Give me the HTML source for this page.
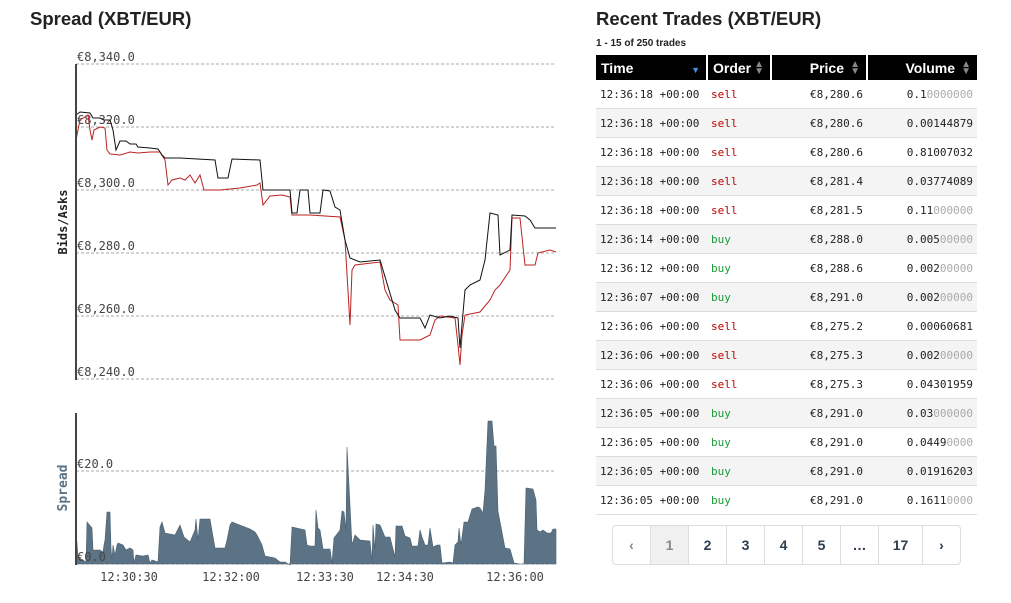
<!DOCTYPE html><html><head><meta charset="utf-8"><style>
body{margin:0;width:1011px;height:603px;background:#fff;font-family:"Liberation Sans",sans-serif;position:relative;overflow:hidden}
h2{position:absolute;margin:0;font-size:18.5px;font-weight:bold;color:#222}
.tbl{position:absolute;left:596px;top:55px;width:381px;border-collapse:collapse;table-layout:fixed}
.tbl th{background:#000;color:#fff;height:25px;font-size:14px;text-align:left;padding:0 5px;border-right:2px solid #fff;position:relative}
.tbl th:last-child{border-right:0}
.tbl th.r{text-align:right;padding-right:22px}
.tbl td{height:28px;border-bottom:1px solid #ddd;font-family:"DejaVu Sans Mono",monospace;font-size:11px;padding:0 4px;color:#222;white-space:nowrap;overflow:hidden}
.tbl tr:nth-child(odd) td{background:#f4f4f4}
.tbl td.r{text-align:right}
.tbl td.s{color:#b00}.tbl td.b{color:#1a9a3a}.g{color:#aaa}
.ar{color:#888;font-size:10px;position:absolute;right:6px;top:6px;line-height:7px}
.pg{position:absolute;left:612px;top:525px;height:38px;display:flex;border:1px solid #ddd;border-radius:4px}
.pg div{width:37px;border-right:1px solid #ddd;display:flex;align-items:center;justify-content:center;font-weight:bold;font-size:14px;color:#2c3e50}
.pg div:last-child{border-right:0}
</style></head><body>
<h2 style="left:30px;top:8px">Spread (XBT/EUR)</h2>
<h2 style="left:596px;top:8px">Recent Trades (XBT/EUR)</h2>
<div style="position:absolute;left:596px;top:38px;font-size:10px;font-weight:bold;color:#222">1 - 15 of 250 trades</div>
<svg width="590" height="603" style="position:absolute;left:0;top:0" font-family="DejaVu Sans Mono,monospace" font-size="12" fill="#444">
<g stroke="#aaa" stroke-dasharray="3,2"><line x1="76" x2="556" y1="64" y2="64"/><line x1="76" x2="556" y1="127" y2="127"/><line x1="76" x2="556" y1="190" y2="190"/><line x1="76" x2="556" y1="253" y2="253"/><line x1="76" x2="556" y1="316" y2="316"/><line x1="76" x2="556" y1="379" y2="379"/><line x1="76" x2="556" y1="471" y2="471"/><line x1="76" x2="556" y1="564" y2="564"/></g>
<text x="77" y="61">€8,340.0</text><text x="77" y="124">€8,320.0</text><text x="77" y="187">€8,300.0</text><text x="77" y="250">€8,280.0</text><text x="77" y="313">€8,260.0</text><text x="77" y="376">€8,240.0</text>
<polyline fill="none" stroke="#b22" stroke-width="1" points="76,140 80,120 88,115 90,130 92,140 94,130 100,127 105,128 107,150 110,154 120,155 130,152 138,153 150,152 160,152 165,160 168,185 172,180 180,178 185,180 190,175 195,183 200,175 204,190 220,190 240,188 257,185 260,183 263,205 270,196 282,195 290,197 292,215 310,215 340,217 345,240 350,325 352,270 355,265 380,262 385,290 390,300 398,305 400,340 420,340 430,335 435,320 440,316 455,318 458,345 460,365 462,335 465,315 480,312 490,300 495,290 500,285 510,270 512,218 520,218 525,265 535,265 538,253 550,250 556,252"/>
<polyline fill="none" stroke="#111" stroke-width="1" points="76,115 80,112 90,113 93,118 100,118 104,120 110,120 113,130 116,150 120,141 126,141 130,144 136,144 138,147 150,148 158,149 162,155 165,158 180,158 215,160 218,178 228,178 232,159 260,160 263,190 290,190 292,213 297,213 300,190 308,190 310,213 320,213 323,190 330,191 335,207 340,210 345,240 350,258 360,262 380,260 395,310 400,318 420,318 425,328 430,315 440,318 450,316 458,318 460,348 465,290 470,285 480,280 485,260 490,213 498,215 500,255 510,250 512,215 525,216 530,220 535,228 556,228"/>
<line x1="76" x2="76" y1="64" y2="380" stroke="#444" stroke-width="2"/>
<text transform="translate(67,222) rotate(-90)" text-anchor="middle" font-weight="bold" fill="#222" font-size="12">Bids/Asks</text>
<polygon fill="#5c7385" stroke="#4a6070" stroke-width="0.6" points="76,564 76,530 78,557 86,562 87,522 92,528 93,550 100,550 103,552 104,545 105,540 107,512 110,512 111,548 112,560 113,545 115,555 117,545 118,543 123,545 126,550 130,548 133,550 134,563 136,555 143,556 148,555 150,563 152,560 158,562 160,527 162,522 165,533 175,535 180,525 184,537 190,542 195,530 196,519 198,540 200,519 210,519 215,548 225,548 227,540 230,525 232,522 250,529 255,532 257,535 262,545 265,556 275,558 280,562 285,562 290,565 292,527 305,530 307,545 310,546 315,546 316,510 318,528 320,530 323,549 330,549 332,563 334,538 340,530 342,511 344,512 346,530 347,447 350,505 352,545 355,535 360,540 370,541 372,561 373,525 375,550 376,524 380,525 385,537 390,537 395,557 396,526 402,526 405,536 410,538 412,546 418,546 420,530 422,537 425,545 428,545 430,528 433,547 437,545 440,545 442,563 450,562 453,563 455,545 458,542 459,528 461,545 464,522 468,522 472,509 478,507 480,508 483,513 485,490 488,421 492,421 494,446 496,446 498,511 505,548 510,549 514,563 520,564 524,564 526,488 533,489 536,500 537,530 540,532 543,530 547,533 551,533 553,529 556,529 556,564"/>
<text x="77" y="468">€20.0</text><text x="77" y="561">€0.0</text>
<line x1="76" x2="76" y1="413" y2="565" stroke="#444" stroke-width="2"/>
<text transform="translate(67,488) rotate(-90)" text-anchor="middle" font-weight="bold" fill="#5c7385" font-size="13">Spread</text>
<g text-anchor="middle"><text x="129" y="581">12:30:30</text><text x="231" y="581">12:32:00</text><text x="325" y="581">12:33:30</text><text x="405" y="581">12:34:30</text><text x="515" y="581">12:36:00</text></g>
</svg>
<table class="tbl">
<colgroup><col style="width:111px"><col style="width:64px"><col style="width:96px"><col></colgroup>
<tr><th>Time<span style="position:absolute;right:6px;top:10px;color:#4a90e2;font-size:9px">▼</span></th><th>Order<span class="ar">▲<br>▼</span></th><th class="r">Price<span class="ar">▲<br>▼</span></th><th class="r">Volume<span class="ar">▲<br>▼</span></th></tr>
<tr><td>12:36:18 +00:00</td><td class="s">sell</td><td class="r">€8,280.6</td><td class="r">0.1<span class="g">0000000</span></td></tr>
<tr><td>12:36:18 +00:00</td><td class="s">sell</td><td class="r">€8,280.6</td><td class="r">0.00144879</td></tr>
<tr><td>12:36:18 +00:00</td><td class="s">sell</td><td class="r">€8,280.6</td><td class="r">0.81007032</td></tr>
<tr><td>12:36:18 +00:00</td><td class="s">sell</td><td class="r">€8,281.4</td><td class="r">0.03774089</td></tr>
<tr><td>12:36:18 +00:00</td><td class="s">sell</td><td class="r">€8,281.5</td><td class="r">0.11<span class="g">000000</span></td></tr>
<tr><td>12:36:14 +00:00</td><td class="b">buy</td><td class="r">€8,288.0</td><td class="r">0.005<span class="g">00000</span></td></tr>
<tr><td>12:36:12 +00:00</td><td class="b">buy</td><td class="r">€8,288.6</td><td class="r">0.002<span class="g">00000</span></td></tr>
<tr><td>12:36:07 +00:00</td><td class="b">buy</td><td class="r">€8,291.0</td><td class="r">0.002<span class="g">00000</span></td></tr>
<tr><td>12:36:06 +00:00</td><td class="s">sell</td><td class="r">€8,275.2</td><td class="r">0.00060681</td></tr>
<tr><td>12:36:06 +00:00</td><td class="s">sell</td><td class="r">€8,275.3</td><td class="r">0.002<span class="g">00000</span></td></tr>
<tr><td>12:36:06 +00:00</td><td class="s">sell</td><td class="r">€8,275.3</td><td class="r">0.04301959</td></tr>
<tr><td>12:36:05 +00:00</td><td class="b">buy</td><td class="r">€8,291.0</td><td class="r">0.03<span class="g">000000</span></td></tr>
<tr><td>12:36:05 +00:00</td><td class="b">buy</td><td class="r">€8,291.0</td><td class="r">0.0449<span class="g">0000</span></td></tr>
<tr><td>12:36:05 +00:00</td><td class="b">buy</td><td class="r">€8,291.0</td><td class="r">0.01916203</td></tr>
<tr><td>12:36:05 +00:00</td><td class="b">buy</td><td class="r">€8,291.0</td><td class="r">0.1611<span class="g">0000</span></td></tr>
</table>
<div class="pg"><div style="color:#888">‹</div><div style="background:#f0f0f0;color:#888">1</div><div>2</div><div>3</div><div>4</div><div>5</div><div>…</div><div style="width:43px">17</div><div>›</div></div>
</body></html>
